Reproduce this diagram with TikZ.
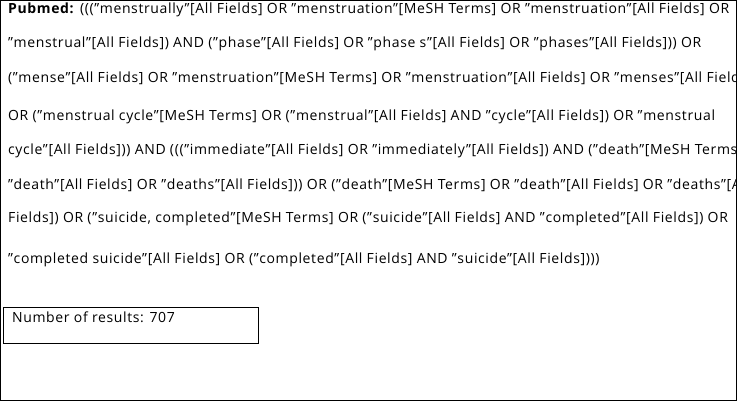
\documentclass[tikz,border=0pt]{standalone}
\usepackage{fontspec}
\setmainfont{Open Sans}[LetterSpace=4.5]
\begin{document}
\begin{tikzpicture}[x=1pt,y=-1pt,txt/.style={anchor=west,inner sep=0pt,font=\fontsize{14}{15}\selectfont}]
\useasboundingbox (0,0) rectangle (737,401);
\draw[line width=1pt] (0.5,0.5) rectangle (736.5,400.5);
\node[txt] (l1) at (8,10) {\textbf{Pubmed:} ((("menstrually"[All Fields] OR "menstruation"[MeSH Terms] OR "menstruation"[All Fields] OR};
\node[txt] (l2) at (8,44) {"menstrual"[All Fields]) AND ("phase"[All Fields] OR "phase s"[All Fields] OR "phases"[All Fields])) OR};
\node[txt] (l3) at (8,78) {("mense"[All Fields] OR "menstruation"[MeSH Terms] OR "menstruation"[All Fields] OR "menses"[All Fields])};
\node[txt] (l4) at (8,117) {OR ("menstrual cycle"[MeSH Terms] OR ("menstrual"[All Fields] AND "cycle"[All Fields]) OR "menstrual};
\node[txt] (l5) at (8,151) {cycle"[All Fields])) AND ((("immediate"[All Fields] OR "immediately"[All Fields]) AND ("death"[MeSH Terms] OR};
\node[txt] (l6) at (8,185) {"death"[All Fields] OR "deaths"[All Fields])) OR ("death"[MeSH Terms] OR "death"[All Fields] OR "deaths"[All};
\node[txt] (l7) at (8,219) {Fields]) OR ("suicide, completed"[MeSH Terms] OR ("suicide"[All Fields] AND "completed"[All Fields]) OR};
\node[txt] (l8) at (8,260) {"completed suicide"[All Fields] OR ("completed"[All Fields] AND "suicide"[All Fields])))};
\draw[line width=1pt] (3,307) rectangle (258,343);
\node[txt] (res) at (12,317) {Number of results: 707};
\end{tikzpicture}
\end{document}
